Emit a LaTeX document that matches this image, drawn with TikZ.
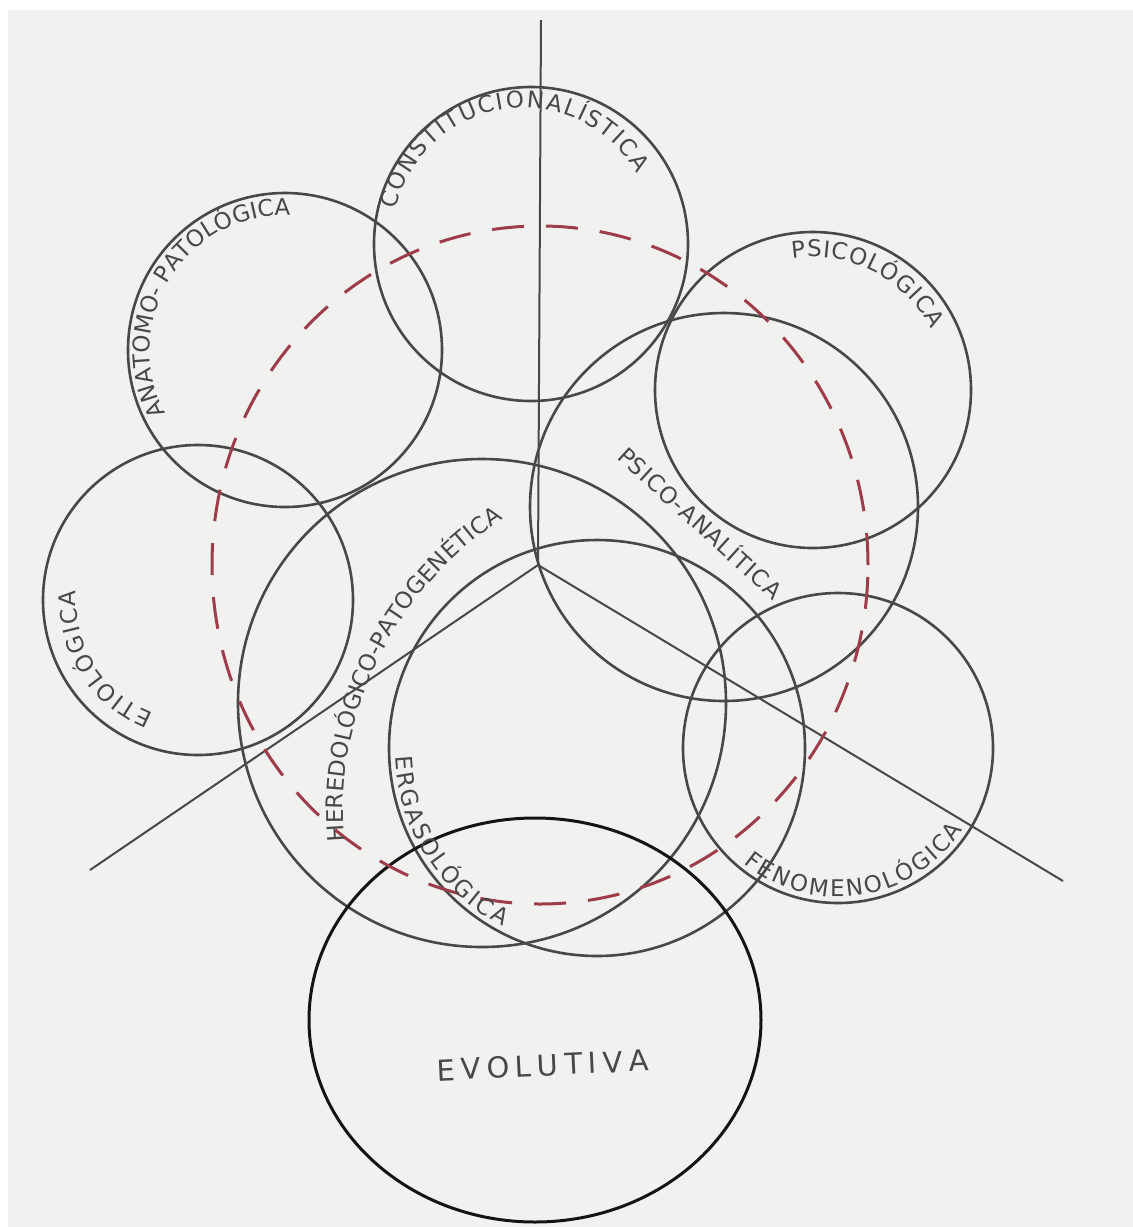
\documentclass[tikz,border=0pt]{standalone}
\usepackage{fontspec}
\newfontfamily\hand{DejaVu Sans}
\usetikzlibrary{decorations.text,calc}
\definecolor{pencil}{RGB}{72,72,72}
\definecolor{inkpen}{RGB}{20,20,20}
\definecolor{redpen}{RGB}{158,60,74}
\definecolor{paper}{RGB}{241,241,239}
\newcommand\lblfont{\hand\fontsize{11.5}{13}\selectfont}
\newcommand\evofont{\hand\fontsize{14.5}{16}\selectfont}
\begin{document}
\begin{tikzpicture}[x=0.5pt,y=0.5pt,
  circ/.style={draw=pencil, line width=1.3pt},
  evo/.style={draw=inkpen, line width=1.5pt},
  axisline/.style={draw=pencil, line width=1pt},
  reddash/.style={draw=redpen, line width=1.5pt, dash pattern=on 16pt off 11pt},
  lbl/.style={decorate, decoration={text along path, text align={fit to path}, text color=pencil, text={|\lblfont|#1}}},
  evolbl/.style={decorate, decoration={text along path, text align={fit to path}, text color=pencil, text={|\evofont|#1}}}
]
\useasboundingbox (0,0) rectangle (1133,-1227);
\fill[white] (0,0) rectangle (1133,-1227);
\fill[paper] (8,-10) rectangle (1133,-1227);

% centres
\coordinate (cCon) at (531,-244);
\coordinate (cAna) at (285,-350);
\coordinate (cPsi) at (813,-390);
\coordinate (cPA)  at (724,-507);
\coordinate (cEti) at (198,-600);
\coordinate (cHer) at (482,-703);
\coordinate (cErg) at (597,-748);
\coordinate (cFen) at (838,-748);
\coordinate (cEvo) at (535,-1020);
\coordinate (cRed) at (540,-565);
% axes
\coordinate (J)  at (538,-565);
\coordinate (T)  at (541,-20);
\coordinate (LL) at (90,-870);
\coordinate (LR) at (1063,-881);
% text centres
\coordinate (tCon) at (523.5,-239);
\coordinate (tHer) at (693,-813);

\draw[axisline] (T) -- (J);
\draw[axisline] (J) -- (LL);
\draw[axisline] (J) -- (LR);

\draw[circ] (cCon) circle[radius=157];
\draw[circ] (cAna) circle[radius=157];
\draw[circ] (cPsi) circle[radius=158];
\draw[circ] (cPA)  circle[radius=194];
\draw[circ] (cEti) circle[radius=155];
\draw[circ] (cHer) circle[radius=244];
\draw[circ] (cErg) circle[radius=208];
\draw[circ] (cFen) circle[radius=155];
\draw[evo]  (cEvo) ellipse[x radius=226, y radius=202];

\draw[reddash] (cRed) ellipse[x radius=328, y radius=339];

% labels
\path[lbl={CONSTITUCIONALÍSTICA}] ($(tCon)+(167:131)$) arc[start angle=167, end angle=30, radius=131];
\path[lbl={ANATOMO- PATOLÓGICA}] ($(cAna)+(208:135)$) arc[start angle=208, end angle=88, radius=135];
\path[lbl={PSICOLÓGICA}] ($(cPsi)+(99:133)$) arc[start angle=99, end angle=27, radius=133];
\path[lbl={PSICO-ANALÍTICA}] (616,-458) -- (773,-601);
\path[lbl={ETIOLÓGICA}] ($(cEti)+(248.5:122)$) arc[start angle=248.5, end angle=175.5, radius=122];
\path[lbl={HEREDOLÓGICO-PATOGENÉTICA}] ($(tHer)+(184.6:350)$) arc[start angle=184.6, end angle=122.9, radius=350];
\path[lbl={ERGASOLÓGICA}] ($(cErg)+(182.4:202)$) arc[start angle=182.4, end angle=242.2, radius=202];
\path[lbl={FENOMENOLÓGICA}] ($(cFen)+(230.5:149)$) arc[start angle=230.5, end angle=327, radius=149];
\path[evolbl={EVOLUTIVA}] (437,-1081) -- (649,-1071);
\end{tikzpicture}
\end{document}
